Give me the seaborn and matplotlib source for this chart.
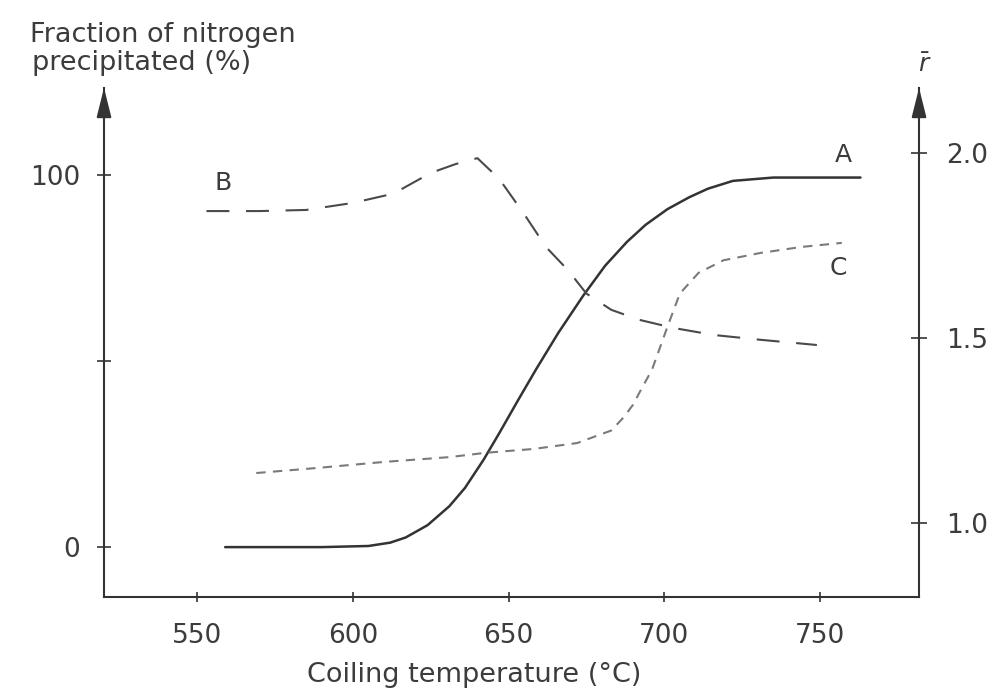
import matplotlib
matplotlib.use("Agg")
import matplotlib.pyplot as plt
import pandas as pd
import seaborn as sns

# curve A: fraction of nitrogen precipitated (%), left axis
temp_a = [559, 575, 590, 605, 612, 617, 624, 631, 636, 642, 647, 653, 659, 666,
          674, 681, 688, 694, 701, 708, 714, 722, 735, 763]
frac_a = [0, 0, 0, 0.3, 1.2, 2.6, 5.9, 11.0, 15.9, 23.5, 30.6, 39.4, 48.0, 57.6,
          67.6, 75.6, 82.0, 86.6, 90.8, 94.0, 96.3, 98.4, 99.3, 99.3]

# curve B: r-bar, right axis
temp_b = [553, 570, 585, 600, 613, 625, 633, 640, 647, 655, 662, 669, 675, 683,
          692, 703, 716, 731, 749]
r_b = [1.843, 1.843, 1.846, 1.865, 1.89, 1.946, 1.97, 1.986, 1.93, 1.835, 1.746,
       1.684, 1.62, 1.576, 1.549, 1.527, 1.508, 1.495, 1.481]

# curve C: r-bar, right axis
temp_c = [569, 589, 610, 631, 643, 658, 672, 683, 687, 690, 693, 696, 701, 705,
          711, 719, 731, 744, 757]
r_c = [1.135, 1.149, 1.165, 1.178, 1.19, 1.2, 1.216, 1.25, 1.286, 1.32, 1.368,
       1.413, 1.53, 1.62, 1.676, 1.71, 1.73, 1.746, 1.757]

x_ticks = [550, 600, 650, 700, 750]
left_ticks = [0, 50, 100]
left_labels = ["0", "", "100"]
right_ticks = [1.0, 1.5, 2.0]
right_labels = ["1.0", "1.5", "2.0"]

sns.set_style("white")
plt.rcParams["font.family"] = ["DejaVu Sans"]

ink = "#333333"
txt = "#3c3c3c"

fig = plt.figure(figsize=(10.02, 6.88), dpi=100)
ax = fig.add_axes([0.1038, 0.1323, 0.8134, 0.740])
ax2 = ax.twinx()

sns.lineplot(x=temp_a, y=frac_a, ax=ax, color=ink, lw=1.8, sort=False,
             estimator=None)

df_r = pd.DataFrame({
    "temp": temp_b + temp_c,
    "r": r_b + r_c,
    "curve": ["B"] * len(temp_b) + ["C"] * len(temp_c),
})
sns.lineplot(data=df_r, x="temp", y="r", hue="curve", style="curve",
             palette={"B": "#4a4a4a", "C": "#7a7a7a"},
             dashes={"B": (11, 8), "C": (4.5, 3.5)}, lw=1.5, ax=ax2,
             legend=False, sort=False, estimator=None)

ax.set_xlim(520.1, 781.8)
ax.set_ylim(-13.4, 123.4)
ax2.set_ylim(0.8, 2.176)

for a in (ax, ax2):
    a.set_xlabel("")
    a.set_ylabel("")
    a.spines["top"].set_visible(False)
    for s in a.spines.values():
        s.set_color(ink)
        s.set_linewidth(1.5)
ax.spines["right"].set_visible(False)
ax2.spines["left"].set_visible(False)
ax2.spines["bottom"].set_visible(False)

ax.set_xticks(x_ticks)
ax.set_yticks(left_ticks, left_labels)
ax2.set_yticks(right_ticks, right_labels)
ax.tick_params(axis="x", bottom=True, direction="inout", length=7, width=1.2,
               pad=15, labelsize=19, colors=ink, labelcolor=txt)
ax.tick_params(axis="y", left=True, direction="inout", length=10, width=1.2,
               pad=12, labelsize=19, colors=ink, labelcolor=txt)
ax2.tick_params(axis="y", right=True, left=False, direction="inout", length=11,
                width=1.2, pad=14, labelsize=19, colors=ink, labelcolor=txt)

# arrowheads on the vertical axes
arrow = dict(arrowstyle="-|>,head_length=1.8,head_width=0.45", color=ink,
             lw=1.5, shrinkA=0, shrinkB=0, mutation_scale=10)
ax.annotate("", xy=(0, 1), xycoords="axes fraction", xytext=(0, 0.95),
            arrowprops=arrow, annotation_clip=False)
ax2.annotate("", xy=(1, 1), xycoords="axes fraction", xytext=(1, 0.95),
             arrowprops=arrow, annotation_clip=False)

# curve labels
ax.text(757.4, 105.4, "A", ha="center", va="center", fontsize=18, color=txt)
ax.text(558.3, 97.8, "B", ha="center", va="center", fontsize=18, color=txt)
ax.text(755.8, 75.0, "C", ha="center", va="center", fontsize=18, color=txt)

# axis titles
fig.text(30 / 1002, 1 - 42 / 688, "Fraction of nitrogen", ha="left",
         va="baseline", fontsize=19.5, color=txt)
fig.text(32 / 1002, 1 - 70 / 688, "precipitated (%)", ha="left",
         va="baseline", fontsize=19.5, color=txt)
fig.text(925 / 1002, 1 - 72 / 688, r"$\bar{r}$", ha="center", va="baseline",
         fontsize=18, color=txt)
fig.text(474 / 1002, 1 - 682 / 688, "Coiling temperature (°C)", ha="center",
         va="baseline", fontsize=19.5, color=txt)

fig.savefig("out.png", dpi=100, facecolor="white")
